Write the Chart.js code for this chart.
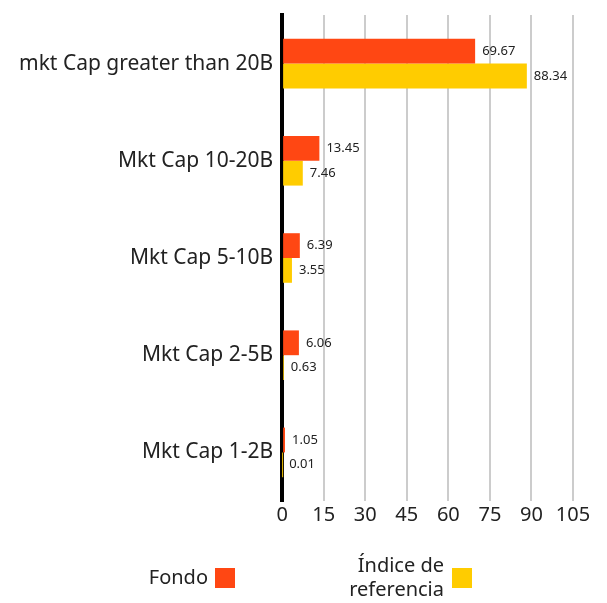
<!DOCTYPE html>
<html>
<head>
<meta charset="utf-8">
<script src="https://cdn.jsdelivr.net/npm/chart.js@4/dist/chart.umd.min.js"></script>
<style>
  html, body { margin: 0; padding: 0; background: #fff; }
  #wrap { width: 607px; height: 603px; }
</style>
</head>
<body>
<div id="wrap"><canvas id="chart" width="607" height="603"></canvas></div>
<script>
const categories = ['mkt Cap greater than 20B', 'Mkt Cap 10-20B', 'Mkt Cap 5-10B', 'Mkt Cap 2-5B', 'Mkt Cap 1-2B'];
const fondo = [69.67, 13.45, 6.39, 6.06, 1.05];
const indice = [88.34, 7.46, 3.55, 0.63, 0.01];
const seriesNames = ['Fondo', 'Índice de\nreferencia'];
const colors = ['#FF4713', '#FFCC00'];

const FONT = "'Noto Sans', sans-serif";

// value labels at the end of each bar
const valueLabels = {
    id: 'valueLabels',
    afterDatasetsDraw(chart) {
        const ctx = chart.ctx;
        ctx.save();
        ctx.font = '13px ' + FONT;
        ctx.fillStyle = '#222';
        ctx.textBaseline = 'middle';
        ctx.textAlign = 'left';
        chart.data.datasets.forEach((ds, i) => {
            chart.getDatasetMeta(i).data.forEach((bar, j) => {
                ctx.fillText(ds.data[j].toFixed(2), bar.x + 7, bar.y);
            });
        });
        ctx.restore();
    }
};

// legend with text first, swatch after
const sideLegend = {
    id: 'sideLegend',
    afterDraw(chart) {
        const ctx = chart.ctx;
        ctx.save();
        ctx.font = '20px ' + FONT;
        ctx.fillStyle = '#222';
        ctx.textAlign = 'right';
        ctx.textBaseline = 'middle';
        const items = [{ x: 208, swatch: 215 }, { x: 444, swatch: 452 }];
        items.forEach((it, i) => {
            const lines = seriesNames[i].split('\n');
            const cy = 578;
            const lh = 24;
            lines.forEach((ln, k) => {
                ctx.fillText(ln, it.x, cy + (k - (lines.length - 1) / 2) * lh);
            });
            ctx.fillStyle = colors[i];
            ctx.fillRect(it.swatch, cy - 10, 20, 20);
            ctx.fillStyle = '#222';
        });
        ctx.restore();
    }
};

new Chart(document.getElementById('chart'), {
    type: 'bar',
    data: {
        labels: categories,
        datasets: [
            { label: 'Fondo', data: fondo, backgroundColor: colors[0], barPercentage: 1, categoryPercentage: 0.51 },
            { label: 'Índice de referencia', data: indice, backgroundColor: colors[1], barPercentage: 1, categoryPercentage: 0.51 }
        ]
    },
    options: {
        indexAxis: 'y',
        responsive: false,
        animation: false,
        layout: { padding: { top: 15, right: 34, bottom: 74, left: 10 } },
        plugins: { legend: { display: false }, tooltip: { enabled: false } },
        scales: {
            x: {
                min: 0, max: 105,
                ticks: { stepSize: 15, color: '#222', font: { family: FONT, size: 20 }, padding: 2 },
                grid: { color: '#cccccc', lineWidth: 2, drawTicks: false },
                border: { display: false }
            },
            y: {
                ticks: { color: '#222', font: { family: FONT, size: 21, lineHeight: 0.5 }, padding: 9 },
                grid: { display: false, drawTicks: false },
                border: { color: '#000', width: 4 }
            }
        }
    },
    plugins: [valueLabels, sideLegend]
});
</script>
</body>
</html>
